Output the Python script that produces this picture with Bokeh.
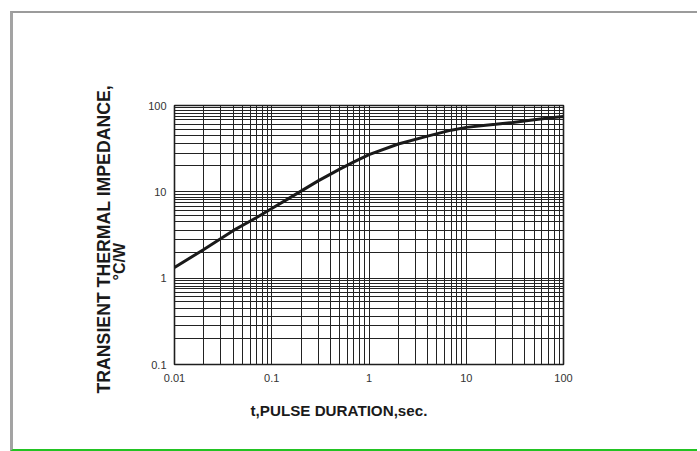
from bokeh.plotting import figure
from bokeh.models import FixedTicker, Title
from bokeh.embed import file_html
from bokeh.resources import INLINE

# ---- data ----
pulse_t = [0.01, 0.02, 0.04, 0.07, 0.1, 0.15, 0.2, 0.3, 0.5, 0.7, 1, 2, 4, 7,
           10, 15, 20, 30, 50, 70, 100]
impedance = [1.33, 2.15, 3.55, 5.05, 6.4, 8.4, 10.2, 13.4, 18.3, 22.2, 27.0,
             35.8, 44.2, 51.8, 55.8, 58.8, 60.6, 63.5, 68.3, 71.5, 74.5]

x_major = [0.01, 0.1, 1, 10, 100]
y_major = [0.1, 1, 10, 100]
x_labels = ["0.01", "0.1", "1", "10", "100"]
y_labels = ["0.1", "1", "10", "100"]
x_minor_steps = [2, 3, 4, 5, 6, 7, 8, 9]
y_minor_steps = [2, 2.8, 3.6, 4.5, 5.3, 6.1, 6.8, 7.5, 8.1, 8.7, 9.4]

x_title = "t,PULSE DURATION,sec."
y_title_1 = "TRANSIENT THERMAL IMPEDANCE,"
y_title_2 = "°C/W"

FONT = "Liberation Sans"

x_minor = [d * s for d in x_major[:-1] for s in x_minor_steps]
y_minor = [d * s for d in y_major[:-1] for s in y_minor_steps]

p = figure(width=687, height=440, x_axis_type="log", y_axis_type="log",
           x_range=(x_major[0], x_major[-1]), y_range=(y_major[0], y_major[-1]),
           output_backend="svg", toolbar_location=None,
           min_border_left=161, min_border_right=137,
           min_border_top=92, min_border_bottom=89,
           background_fill_color="white", border_fill_color="white")
p.styles = {"margin-left": "10px", "margin-top": "11px",
            "border-left": "3px solid #a3a3a3",
            "border-top": "2px solid #9b9b9b",
            "border-bottom": "2px solid #22c322"}

p.outline_line_color = "#1e1e1e"
p.outline_line_width = 1.6

p.xaxis.ticker = FixedTicker(ticks=x_major, minor_ticks=x_minor)
p.yaxis.ticker = FixedTicker(ticks=y_major, minor_ticks=y_minor)
p.xaxis.major_label_overrides = {v: s for v, s in zip(x_major, x_labels)}
p.yaxis.major_label_overrides = {v: s for v, s in zip(y_major, y_labels)}

for ax in (p.xaxis, p.yaxis):
    ax.axis_line_color = None
    ax.major_tick_line_color = None
    ax.minor_tick_line_color = None
    ax.major_tick_out = 0
    ax.minor_tick_out = 0
    ax.major_label_text_font = FONT
    ax.major_label_text_font_size = "11px"
    ax.major_label_text_color = "#333333"
p.xaxis.major_label_standoff = 9
p.yaxis.major_label_standoff = 8

# second line of the y title sits right next to the tick labels; it is
# centred a little below the middle of the frame, as in the reference
p.yaxis.axis_label = y_title_2 + "\u00a0" * 12
p.yaxis.axis_label_standoff = 17
p.yaxis.axis_label_text_font = FONT
p.yaxis.axis_label_text_font_size = "16px"
p.yaxis.axis_label_text_font_style = "bold"
p.yaxis.axis_label_text_color = "#1a1a1a"

for g in (p.xgrid, p.ygrid):
    g.grid_line_color = "#222222"
    g.grid_line_width = 1
    g.grid_line_alpha = 1
    g.minor_grid_line_color = "#222222"
    g.minor_grid_line_width = 1

p.line(pulse_t, impedance, line_color="#1a1a1a", line_width=3)

p.add_layout(Title(text=y_title_1, align="left", offset=-29, standoff=-10,
                   vertical_align="bottom", text_font=FONT,
                   text_font_size="17.7px", text_font_style="bold",
                   text_color="#1a1a1a"), "left")
p.add_layout(Title(text=x_title, align="left", offset=76, standoff=35,
                   vertical_align="top", text_font=FONT,
                   text_font_size="15.2px", text_font_style="bold",
                   text_color="#1a1a1a"), "below")

open("out.html", "w").write(file_html(p, INLINE))
